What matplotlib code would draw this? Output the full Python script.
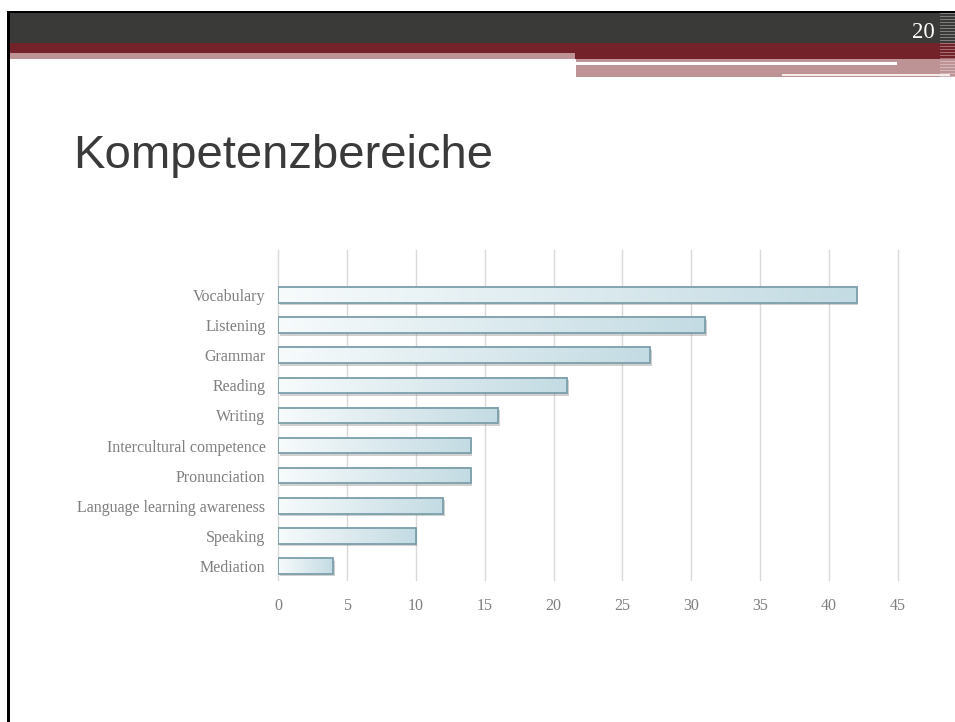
import numpy as np
import matplotlib
matplotlib.use("Agg")
import matplotlib.pyplot as plt
from matplotlib.colors import LinearSegmentedColormap
from matplotlib.patches import Rectangle
import matplotlib.transforms as mtransforms

# data, top to bottom as on the slide
categories = ["Vocabulary", "Listening", "Grammar", "Reading", "Writing",
              "Intercultural competence", "Pronunciation",
              "Language learning awareness", "Speaking", "Mediation"]
counts = [42, 31, 27, 21, 16, 14, 14, 12, 10, 4]
xticks = [0, 5, 10, 15, 20, 25, 30, 35, 40, 45]

W, H = 955, 722
fig = plt.figure(figsize=(W / 100, H / 100), dpi=100)
fig.patch.set_facecolor("white")

# slide frame + header, drawn in pixel coordinates
bg = fig.add_axes([0, 0, 1, 1])
bg.set_xlim(0, W)
bg.set_ylim(H, 0)
bg.axis("off")

def rect(x0, y0, x1, y1, color, z=1):
    bg.add_patch(Rectangle((x0, y0), x1 - x0, y1 - y0, color=color, lw=0, zorder=z))

rect(7, 11, W, 13, "black")
rect(7, 11, 10, H, "black")
rect(10, 13, W, 43, "#3a3a39")
rect(10, 43, W, 53, "#74222a")
rect(575, 53, W, 59, "#74222a")
rect(10, 53, 575, 59, "#be9395")
rect(576, 59, W, 77, "#be9395")
rect(576, 62, 897, 65, "white", 2)
rect(782, 74, 950, 76, "#f4ecec", 2)
# dotted strip at the right edge
for yy in range(13, 77, 3):
    rect(940, yy, W, yy + 1, (1, 1, 1, 0.35), 3)
bg.text(935, 38, "20", color="white", fontsize=16.5, family="Liberation Serif",
        ha="right", va="baseline", zorder=4)

fig.text(73 / W, 1 - 168 / H, "Kompetenzbereiche", fontsize=34,
         family="Liberation Sans", color="#3a3a3a", va="baseline")

# chart
ax = fig.add_axes([278 / W, 1 - 580 / H, (898 - 278) / W, (580 - 250) / H])
ax.patch.set_alpha(0)

ypos = np.arange(len(categories))[::-1]
bar_h = 0.52
grad_cmap = LinearSegmentedColormap.from_list("g", ["#f7fbfc", "#c3dbe3"])
grad = np.linspace(0, 1, 256).reshape(1, -1)

shadow_tr = mtransforms.offset_copy(ax.transData, fig=fig, x=1.5, y=-2.5, units="dots")
ax.barh(ypos, counts, height=bar_h, color="#8a8a8a", alpha=0.4, lw=0,
        transform=shadow_tr, zorder=2)
for y, v in zip(ypos, counts):
    ax.imshow(grad, cmap=grad_cmap, aspect="auto", interpolation="bilinear",
              extent=(0, v, y - bar_h / 2, y + bar_h / 2), zorder=3)
ax.barh(ypos, counts, height=bar_h, facecolor="none", edgecolor="#7c9fa9",
        lw=1.3, zorder=4)

ax.set_xlim(0, 45)
ax.set_ylim(-0.47, 10.5)
ax.set_xticks(xticks)
ax.set_yticks(ypos)
ax.set_yticklabels(categories)
ax.grid(axis="x", color="#d9d9d9", lw=1.0, zorder=0)
for gl in ax.get_xgridlines():
    gl.set_clip_on(False)
ax.set_axisbelow(True)
for s in ax.spines.values():
    s.set_visible(False)
ax.tick_params(length=0, colors="#7f7f7f", labelsize=11.5)
ax.tick_params(axis="y", pad=9)
ax.tick_params(axis="x", pad=13)
for lab in ax.get_xticklabels() + ax.get_yticklabels():
    lab.set_family("Liberation Serif")
    lab.set_color("#7f7f7f")

fig.savefig("out.png", dpi=100)
